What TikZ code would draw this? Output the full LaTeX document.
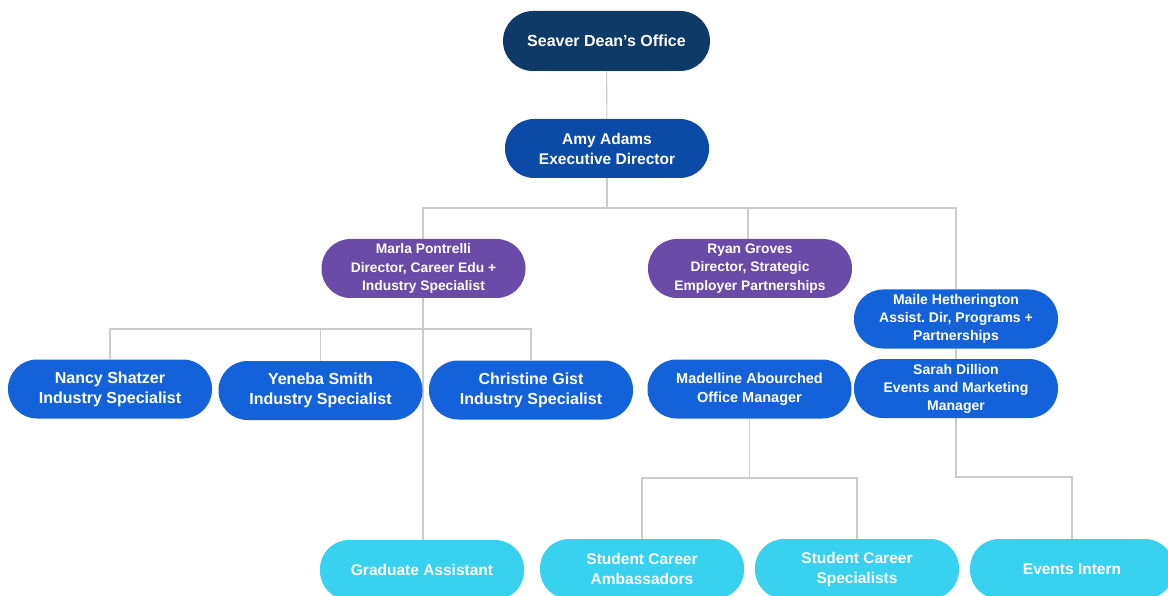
\documentclass[tikz,border=0pt]{standalone}
\usepackage{fontspec}
\setmainfont{Liberation Sans}
\usetikzlibrary{backgrounds}
\frenchspacing
\definecolor{navy}{HTML}{0D3A66}
\definecolor{exec}{HTML}{0B4AA6}
\definecolor{purp}{HTML}{6A4CA8}
\definecolor{royal}{HTML}{1462DA}
\definecolor{cyanbox}{HTML}{38D2F0}
\definecolor{wire}{HTML}{CCCCCC}
\begin{document}
\begin{tikzpicture}[x=1pt,y=-1pt,
  box/.style={draw=none, rounded corners=29pt, minimum width=204pt, minimum height=59pt,
    inner sep=0pt, align=center, text=white, font=\bfseries\fontsize{14}{18}\selectfont},
  topbox/.style={box, fill=navy, minimum width=207pt, minimum height=60pt, rounded corners=30pt, font=\bfseries\fontsize{16}{20}\selectfont},
  execbox/.style={box, fill=exec, font=\bfseries\fontsize{15.5}{20}\selectfont},
  dirbox/.style={box, fill=purp, font=\bfseries\fontsize{13.8}{18.5}\selectfont},
  staffbox/.style={box, fill=royal},
  specbox/.style={box, fill=royal, font=\bfseries\fontsize{16}{20}\selectfont},
  internbox/.style={box, fill=cyanbox, minimum height=60pt, font=\bfseries\fontsize{15.5}{20}\selectfont},
  wireline/.style={draw=wire, line width=1.1pt}]
\useasboundingbox (0,0) rectangle (1168,596);

\node[topbox] (seaver) at (606.5,41) {Seaver Dean's Office};
\node[execbox] (amy) at (607,148.5) {Amy Adams\\Executive Director};

\node[dirbox] (marla) at (423.5,268.5) {Marla Pontrelli\\Director, Career Edu +\\Industry Specialist};
\node[dirbox] (ryan) at (750,268.5) {Ryan Groves\\Director, Strategic\\Employer Partnerships};
\node[staffbox] (maile) at (956,319) {Maile Hetherington\\Assist.\ Dir, Programs +\\Partnerships};
\node[staffbox] (sarah) at (956,388.5) {Sarah Dillion\\Events and Marketing\\Manager};

\node[specbox] (nancy) at (110,389) {Nancy Shatzer\\Industry Specialist};
\node[specbox] (yeneba) at (320.5,390.5) {Yeneba Smith\\Industry Specialist};
\node[specbox] (christine) at (531,390) {Christine Gist\\Industry Specialist};
\node[staffbox, font=\bfseries\fontsize{14.5}{19}\selectfont] (madelline) at (749.5,389) {Madelline Abourched\\Office Manager};

\node[internbox] (grad) at (422,570) {Graduate Assistant};
\node[internbox] (amb) at (642,569) {Student Career\\Ambassadors};
\node[internbox] (spec) at (857,569) {Student Career\\Specialists};
\node[internbox] (intern) at (1072,569) {Events Intern};

\coordinate (j1) at (607,208);
\coordinate (j2) at (423,329);
\coordinate (j3) at (1072,477);
\coordinate (j4) at (749.5,478);

\begin{pgfonlayer}{background}
\draw[wireline] (seaver) -- (amy);
\draw[wireline] (amy) -- (j1);
\draw[wireline] (marla.north -| j2) |- (j1) -| (maile.north);
\draw[wireline] (ryan.north) ++(-2,0) coordinate (rtop) -- (rtop |- j1);
\draw[wireline] (marla.south -| j2) -- (grad.north -| j2);
\draw[wireline] (nancy.north) |- (j2) -| (christine.north);
\draw[wireline] (yeneba.north) -- (yeneba.north |- j2);
\draw[wireline] (maile) -- (sarah);
\draw[wireline] (sarah.south) |- (j3) -- (intern.north);
\draw[wireline] (madelline.south) -- (j4);
\draw[wireline] (amb.north) |- (j4) -| (spec.north);
\end{pgfonlayer}
\end{tikzpicture}
\end{document}
